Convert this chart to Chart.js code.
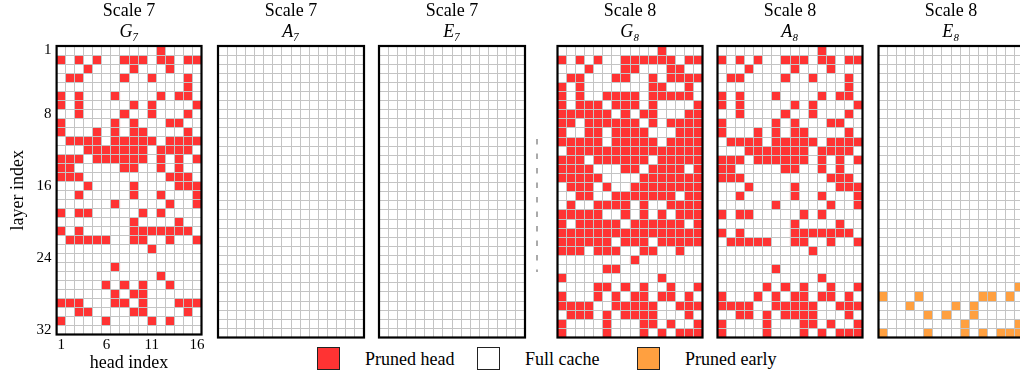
<!DOCTYPE html>
<html><head><meta charset="utf-8">
<script src="https://cdn.jsdelivr.net/npm/chart.js@4.4.1/dist/chart.umd.min.js"></script>
<style>
html,body{margin:0;padding:0;background:#fff;width:1020px;height:374px;overflow:hidden;position:relative;font-family:'Liberation Serif','Times New Roman',serif;}
canvas{position:absolute;top:0;}
.lg{position:absolute;font-size:18px;line-height:23px;top:348px;color:#000;white-space:nowrap}
.bx{position:absolute;top:347px;width:21px;height:21px;border:1px solid #222;box-sizing:content-box}
</style></head><body>
<svg style="position:absolute;left:532px;top:135px" width="10" height="140"><line x1="5" y1="4" x2="5" y2="137" stroke="#aaaaaa" stroke-width="2" stroke-dasharray="5.5 9"/></svg>
<div class="bx" style="left:317px;background:#ff3333"></div><div class="lg" style="left:365px">Pruned head</div>
<div class="bx" style="left:477px;background:#ffffff"></div><div class="lg" style="left:525px">Full cache</div>
<div class="bx" style="left:637px;background:#ffa040"></div><div class="lg" style="left:685px">Pruned early</div>
<script>
// ---------------- data ----------------
const heads = ['1','2','3','4','5','6','7','8','9','10','11','12','13','14','15','16'];
const layers = ['1','2','3','4','5','6','7','8','9','10','11','12','13','14','15','16',
                '17','18','19','20','21','22','23','24','25','26','27','28','29','30','31','32'];
const headTicksShown = ['1','6','11','16'];
const layerTicksShown = ['1','8','16','24','32'];
const scaleTitles = ['Scale 7','Scale 7','Scale 7','Scale 8','Scale 8','Scale 8'];
const matrixNames = ['G₇','A₇','E₇','G₈','A₈','E₈'];

// pruned heads listed per layer (layer 1 .. 32)
const prunedG7 = [
  [12],[1,3,5,8,9,10,12,13,15,16],[4,9,13],[2,3,8,11,15],[15],[1,3,7,12,14,15],
  [1,3,9,11,16],[3,8,11,15],[1,7,9,13,14],[1,5,7,9,10,15],
  [2,3,4,5,7,8,9,10,11,13,14,15,16],[4,5,6,7,8,9,10,12,13,14,15],
  [1,2,3,5,6,7,8,9,10,12,14,16],[1,2,8,9,12,14],[1,2,3,13,14,15],[4,9,14,15,16],
  [3,9,12,16],[7,13,16],[1,3,4,10,12],[9,14],[1,3,9,10,11,12,13,14,15],
  [2,3,4,5,6,9,10,13,16],[11],[],[7],[12],[6,8,10,13],[7,9,10],
  [1,2,3,7,8,10,14,15,16],[3,4,9,10,15],[1,6,11,13],[]
];
const prunedA7 = [[],[],[],[],[],[],[],[],[],[],[],[],[],[],[],[],[],[],[],[],[],[],[],[],[],[],[],[],[],[],[],[]];
const prunedE7 = [[],[],[],[],[],[],[],[],[],[],[],[],[],[],[],[],[],[],[],[],[],[],[],[],[],[],[],[],[],[],[],[]];
const prunedG8 = [
  [12],[1,3,5,8,9,10,11,12,13,15,16],[4,8,9,13,14],[2,3,7,8,11,13,14,15,16],[1,3,11,12,15],
  [1,3,6,7,8,9,11,12,13,14,15],[1,3,4,5,7,8,9,11,16],[1,2,3,4,5,6,8,10,11,15,16],
  [1,2,4,5,6,7,8,9,11,13,14,15,16],[1,4,5,7,8,9,10,14,15,16],
  [1,2,3,4,5,7,8,9,10,11,13,14,15,16],[2,3,4,5,6,7,8,9,10,11,12,13,14,15,16],
  [1,2,3,5,6,7,8,9,10,12,13,14,15,16],[1,2,3,4,8,9,11,12,13,14,16],
  [1,2,3,4,5,10,11,12,13,14,15,16],[2,3,4,6,9,10,11,12,13,14,15,16],
  [3,4,7,8,9,10,11,12,13,15,16],[2,5,6,7,8,10,13,14,15,16],[1,2,3,4,5,8,10,12,14,15,16],
  [1,3,4,5,6,7,9,10,11,12,13,14,16],[1,2,3,4,5,6,7,8,9,10,11,12,13,14,15,16],
  [1,2,3,4,5,6,8,9,10,12,13,14,15,16],[1,2,3,5,6,7,10,11,14],[9],[6,7],[1,12],
  [5,6,8,10,13,16],[1,5,7,9,10,12,13,15],[1,2,3,4,7,8,9,10,11,14,15,16],
  [2,3,4,6,8,9,10,11,15],[1,6,10,11,13,16],[1,6,10,12,14,15,16]
];
const prunedA8 = [
  [12],[1,3,5,8,9,10,12,13,15,16],[4,9,13],[2,3,8,11,15],[15],[1,3,7,12,14,15],
  [1,3,9,11,16],[3,8,11,15],[1,7,9,13,14],[1,5,7,9,10,15],
  [2,3,4,5,7,8,9,10,11,13,14,15,16],[4,5,6,7,8,9,10,12,13,14,15],
  [1,2,3,5,6,7,8,9,10,12,14,16],[1,2,8,9,12,14],[1,2,3,13,14,15],[4,9,14,15,16],
  [3,9,12,16],[7,13,16],[1,3,4,10,12],[9,14],[1,3,9,10,11,12,13,14,15],
  [2,3,4,5,6,9,10,13,16],[11],[],[7],[12],[6,8,10,13,16],[1,5,7,9,10,12,13,15],
  [1,2,3,4,7,8,9,10,11,14,15,16],[3,4,6,8,9,10,11,15],[1,6,10,11,13,16],[1,6,10,12,14,15,16]
];
const prunedE8 = [
  [],[],[],[],[],[],[],[],[],[],[],[],[],[],[],[],[],[],[],[],[],[],[],[],[],[],
  [16],[1,5,12,13,15],[4,9,11],[6,8,11],[10,16],[1,6,10,12,14,15,16]
];

// ---------------- drawing ----------------
const SERIF = "'Liberation Serif', 'Times New Roman', serif";
const RED = '#ff3333', ORANGE = '#ffa040';
Chart.defaults.color = '#000';
Chart.defaults.font.family = SERIF;

const frame = { id: 'frame', afterDraw(c) {
  const a = c.chartArea, ctx = c.ctx;
  ctx.save(); ctx.strokeStyle = '#000'; ctx.lineWidth = 2.2;
  ctx.strokeRect(a.left, a.top, a.right - a.left, a.bottom - a.top);
  ctx.restore();
}};

function cellPoints(rows) {
  const pts = [];
  rows.forEach((hs, li) => hs.forEach(h => pts.push({ x: String(h), y: layers[li] })));
  return pts;
}

function panel(idx, rows, color, canvasLeft, canvasWidth, pad, withAxes) {
  const cv = document.createElement('canvas');
  cv.width = canvasWidth; cv.height = 374;
  cv.style.left = canvasLeft + 'px';
  cv.style.width = canvasWidth + 'px'; cv.style.height = '374px';
  document.body.appendChild(cv);
  new Chart(cv, {
    type: 'scatter',
    data: { datasets: [{
      data: cellPoints(rows),
      pointStyle: 'rect', pointRadius: 6.5, pointHoverRadius: 6.5,
      backgroundColor: color, pointBackgroundColor: color,
      borderWidth: 0, pointBorderWidth: 0
    }]},
    options: {
      responsive: false, animation: false, events: [],
      layout: { padding: pad },
      plugins: {
        legend: { display: false }, tooltip: { enabled: false },
        title: { display: true, text: scaleTitles[idx], fullSize: false,
          font: { family: SERIF, size: 18, weight: 'normal', lineHeight: 1.2 }, color: '#000',
          padding: { top: 0, bottom: 0 } },
        subtitle: { display: true, text: matrixNames[idx], fullSize: false,
          font: { family: SERIF, size: 18, style: 'italic', lineHeight: 1.2 }, color: '#000',
          padding: { top: 0, bottom: 2.8 } }
      },
      scales: {
        x: {
          type: 'category', labels: heads, offset: true,
          grid: { offset: true, color: '#c4c4c4', lineWidth: 1, drawTicks: false, z: 1 },
          border: { display: false },
          ticks: { display: withAxes, autoSkip: false, maxRotation: 0, padding: 3,
            font: { family: SERIF, size: 15, lineHeight: 1 }, color: '#000',
            callback(v) { const l = this.getLabelForValue(v); return headTicksShown.includes(l) ? l : ''; } },
          title: { display: withAxes, text: 'head index', color: '#000',
            font: { family: SERIF, size: 18, lineHeight: 1 }, padding: { top: -1.5, bottom: 2 } }
        },
        y: {
          type: 'category', labels: layers, offset: true,
          grid: { offset: true, color: '#c4c4c4', lineWidth: 1, drawTicks: false, z: 1 },
          border: { display: false },
          ticks: { display: withAxes, autoSkip: false, padding: 5,
            font: { family: SERIF, size: 15, lineHeight: 1 }, color: '#000',
            callback(v) { const l = this.getLabelForValue(v); return layerTicksShown.includes(l) ? l : ''; } },
          title: { display: withAxes, text: 'layer index', color: '#000',
            font: { family: SERIF, size: 18, lineHeight: 1.2 }, padding: { top: 0, bottom: 3 } }
        }
      }
    },
    plugins: [frame]
  });
}

panel(0, prunedG7, RED, 0, 208, { left: 7, right: 6, top: 0, bottom: 0 }, true);
panel(1, prunedA7, RED, 212, 158, { left: 6, right: 6, top: 0, bottom: 36.5 }, false);
panel(2, prunedE7, RED, 373, 158, { left: 6, right: 6, top: 0, bottom: 36.5 }, false);
panel(3, prunedG8, RED, 550.5, 158, { left: 6, right: 6, top: 0, bottom: 36.5 }, false);
panel(4, prunedA8, RED, 711, 158, { left: 6, right: 6, top: 0, bottom: 36.5 }, false);
panel(5, prunedE8, ORANGE, 872, 158, { left: 6, right: 6, top: 0, bottom: 36.5 }, false);
</script>
</body></html>
